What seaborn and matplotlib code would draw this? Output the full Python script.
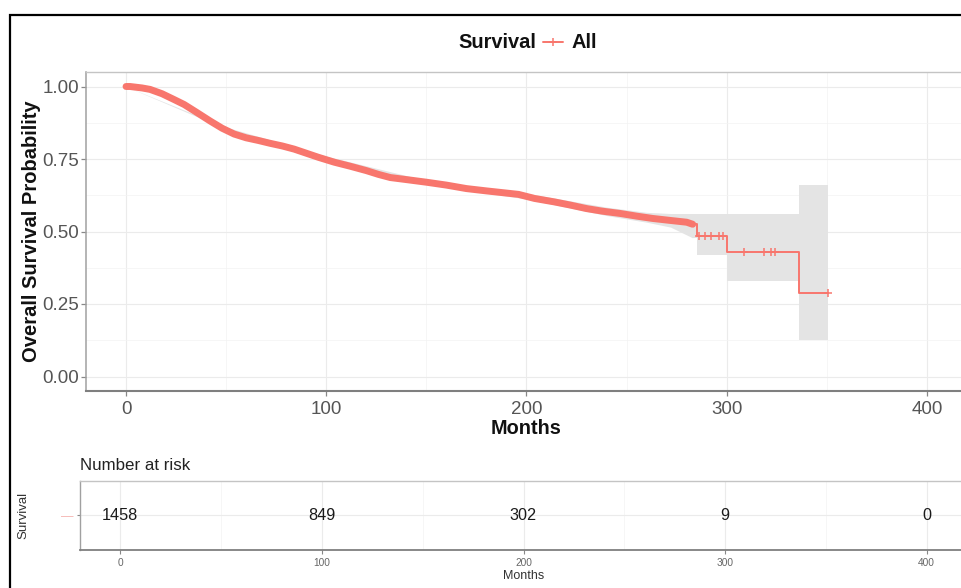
import numpy as np
import pandas as pd
import matplotlib
matplotlib.use("Agg")
import matplotlib.pyplot as plt
from matplotlib.lines import Line2D
from matplotlib.patches import Rectangle
from matplotlib.ticker import MultipleLocator
import seaborn as sns

# ---------------- data ----------------
# dense part of the Kaplan-Meier curve (many censor marks -> thick band)
km_time = [0, 2, 8, 12, 18, 24, 29, 35, 42, 48, 54, 60, 66, 72, 78, 84, 90, 96,
           104, 112, 120, 126, 132, 140, 150, 160, 170, 180, 188, 196, 204, 214,
           222, 230, 238, 247, 255, 263, 272, 280, 283]
km_surv = [1.0, 1.0, 0.995, 0.99, 0.975, 0.955, 0.938, 0.912, 0.881, 0.856, 0.836,
           0.823, 0.814, 0.804, 0.795, 0.784, 0.770, 0.756, 0.739, 0.725, 0.710,
           0.697, 0.686, 0.679, 0.670, 0.660, 0.648, 0.640, 0.634, 0.628, 0.614,
           0.602, 0.591, 0.579, 0.570, 0.562, 0.553, 0.545, 0.538, 0.532, 0.525]
# sparse tail (step function)
tail_time = [283, 285, 300, 336, 350.5]
tail_surv = [0.525, 0.483, 0.428, 0.288, 0.288]
# censor marks on the tail
cens_time = [286, 289, 292, 296, 298, 308.5, 318.5, 322, 324, 350.5]
cens_surv = [0.483, 0.483, 0.483, 0.483, 0.483, 0.428, 0.428, 0.428, 0.428, 0.288]
# confidence band
band_time = [0, 50, 100, 150, 200, 240, 260, 272, 283]
band_lower = [1.0, 0.853, 0.749, 0.662, 0.612, 0.555, 0.532, 0.515, 0.478]
band_upper = [1.0, 0.860, 0.760, 0.676, 0.632, 0.584, 0.566, 0.562, 0.562]
tail_band_time = [283, 285, 300, 336, 350.5]
tail_band_lower = [0.478, 0.418, 0.328, 0.126, 0.126]
tail_band_upper = [0.562, 0.562, 0.562, 0.662, 0.662]

# number at risk table
risk_time = [0, 100, 200, 300, 400]
risk_n = [1458, 849, 302, 9, 0]

x_ticks = [0, 100, 200, 300, 400]
y_ticks = [0.00, 0.25, 0.50, 0.75, 1.00]
y_ticklabels = ["0.00", "0.25", "0.50", "0.75", "1.00"]

curve_color = "#F8766D"
band_color = "#e4e4e4"

# ---------------- style ----------------
sns.set_theme(style="white")
plt.rcParams["font.family"] = ["Liberation Sans", "DejaVu Sans"]

W, H = 961, 588
fig = plt.figure(figsize=(W / 100, H / 100), dpi=100)

def fx(px):
    return px / W

def fy(py):
    return 1 - py / H

# main panel
ax = fig.add_axes([fx(86), fy(391), fx(967) - fx(86), fy(72) - fy(391)])

df_dense = pd.DataFrame({"time": km_time, "surv": km_surv})
df_tail = pd.DataFrame({"time": tail_time, "surv": tail_surv})

ax.fill_between(band_time, band_lower, band_upper, color=band_color, lw=0, zorder=1)
ax.fill_between(tail_band_time, tail_band_lower, tail_band_upper, step="post",
                color=band_color, lw=0, zorder=1)

sns.lineplot(data=df_dense, x="time", y="surv", ax=ax, color=curve_color,
             lw=5.0, solid_capstyle="round", zorder=3, estimator=None, sort=False)
sns.lineplot(data=df_tail, x="time", y="surv", ax=ax, color=curve_color,
             lw=1.4, drawstyle="steps-post", zorder=3, estimator=None, sort=False)
ax.plot(cens_time, cens_surv, ls="none", marker="+", ms=6, mew=1.1,
        color=curve_color, zorder=4)

ax.set_xlim(-20, 420)
ax.set_ylim(-0.05, 1.05)
ax.set_xticks(x_ticks)
ax.set_yticks(y_ticks)
ax.set_yticklabels(y_ticklabels)
ax.xaxis.set_minor_locator(MultipleLocator(50))
ax.yaxis.set_minor_locator(MultipleLocator(0.125))
ax.grid(which="major", color="#ebebeb", lw=0.8)
ax.grid(which="minor", color="#f3f3f3", lw=0.5)
ax.set_axisbelow(True)
ax.tick_params(axis="both", which="major", labelsize=13.5, labelcolor="#555555",
               color="#888888", length=3.5, width=0.9, direction="out",
               left=True, bottom=True)
ax.tick_params(axis="x", pad=3.5)
ax.tick_params(axis="y", pad=1.5)
ax.tick_params(which="minor", length=0)
for s in ["top", "right"]:
    ax.spines[s].set_color("#c4c4c4")
    ax.spines[s].set_linewidth(1.0)
ax.spines["left"].set_color("#a0a0a0")
ax.spines["left"].set_linewidth(1.1)
ax.spines["bottom"].set_color("#7f7f7f")
ax.spines["bottom"].set_linewidth(1.5)
ax.set_xlabel("Months", fontsize=14.3, fontweight="bold", color="#111111", labelpad=1)
ax.set_ylabel("Overall Survival Probability", fontsize=14.5, fontweight="bold",
              color="#111111", labelpad=1)

# legend at top
fig.text(fx(536), fy(48), "Survival", ha="right", va="baseline", fontsize=14.4,
         fontweight="bold", color="#111111")
fig.add_artist(Line2D([fx(543), fx(563)], [fy(42), fy(42)], transform=fig.transFigure,
                      color=curve_color, lw=1.4))
fig.add_artist(Line2D([fx(553)], [fy(42)], transform=fig.transFigure, color=curve_color,
                      marker="+", ms=6, mew=1.1, ls="none"))
fig.text(fx(572), fy(48), "All", ha="left", va="baseline", fontsize=14.4,
         fontweight="bold", color="#111111")

# risk table
ax2 = fig.add_axes([fx(80), fy(550), fx(967) - fx(80), fy(480.7) - fy(550)])
ax2.set_xlim(-20, 420)
ax2.set_ylim(0.5, 1.5)
for t, n in zip(risk_time, risk_n):
    ax2.text(t, 1.0, str(n), ha="center", va="center", fontsize=11.7, color="#1a1a1a")
ax2.set_xticks(x_ticks)
ax2.xaxis.set_minor_locator(MultipleLocator(50))
ax2.set_yticks([1.0])
ax2.set_yticklabels(["\u2014"])
ax2.get_yticklabels()[0].set_color("#f5b3af")
ax2.grid(which="major", color="#ebebeb", lw=0.8)
ax2.grid(which="minor", axis="x", color="#f3f3f3", lw=0.5)
ax2.set_axisbelow(True)
ax2.tick_params(axis="x", which="major", labelsize=7.3, labelcolor="#666666",
                color="#888888", length=3, width=0.8, pad=3, bottom=True)
ax2.tick_params(axis="y", which="major", labelsize=9, color="#888888",
                length=2.5, width=0.8, pad=2, left=True)
ax2.tick_params(which="minor", length=0)
for s in ["top", "right"]:
    ax2.spines[s].set_color("#c4c4c4")
    ax2.spines[s].set_linewidth(1.0)
ax2.spines["left"].set_color("#a0a0a0")
ax2.spines["left"].set_linewidth(1.0)
ax2.spines["bottom"].set_color("#7f7f7f")
ax2.spines["bottom"].set_linewidth(1.3)
ax2.set_xlabel("Months", fontsize=9, color="#333333", labelpad=1)
ax2.set_ylabel("Survival", fontsize=9.5, color="#333333")
ax2.yaxis.set_label_coords((29 - 80) / (967 - 80), 0.5)
ax2.set_title("Number at risk", loc="left", fontsize=12.2, color="#222222", pad=7.5)

# outer black frame of the screenshot
fig.add_artist(Rectangle((fx(9.5), -0.2), 1.5, fy(14.5) + 0.2, transform=fig.transFigure,
                         fill=False, ec="black", lw=1.6))

fig.savefig("out.png", dpi=100)
